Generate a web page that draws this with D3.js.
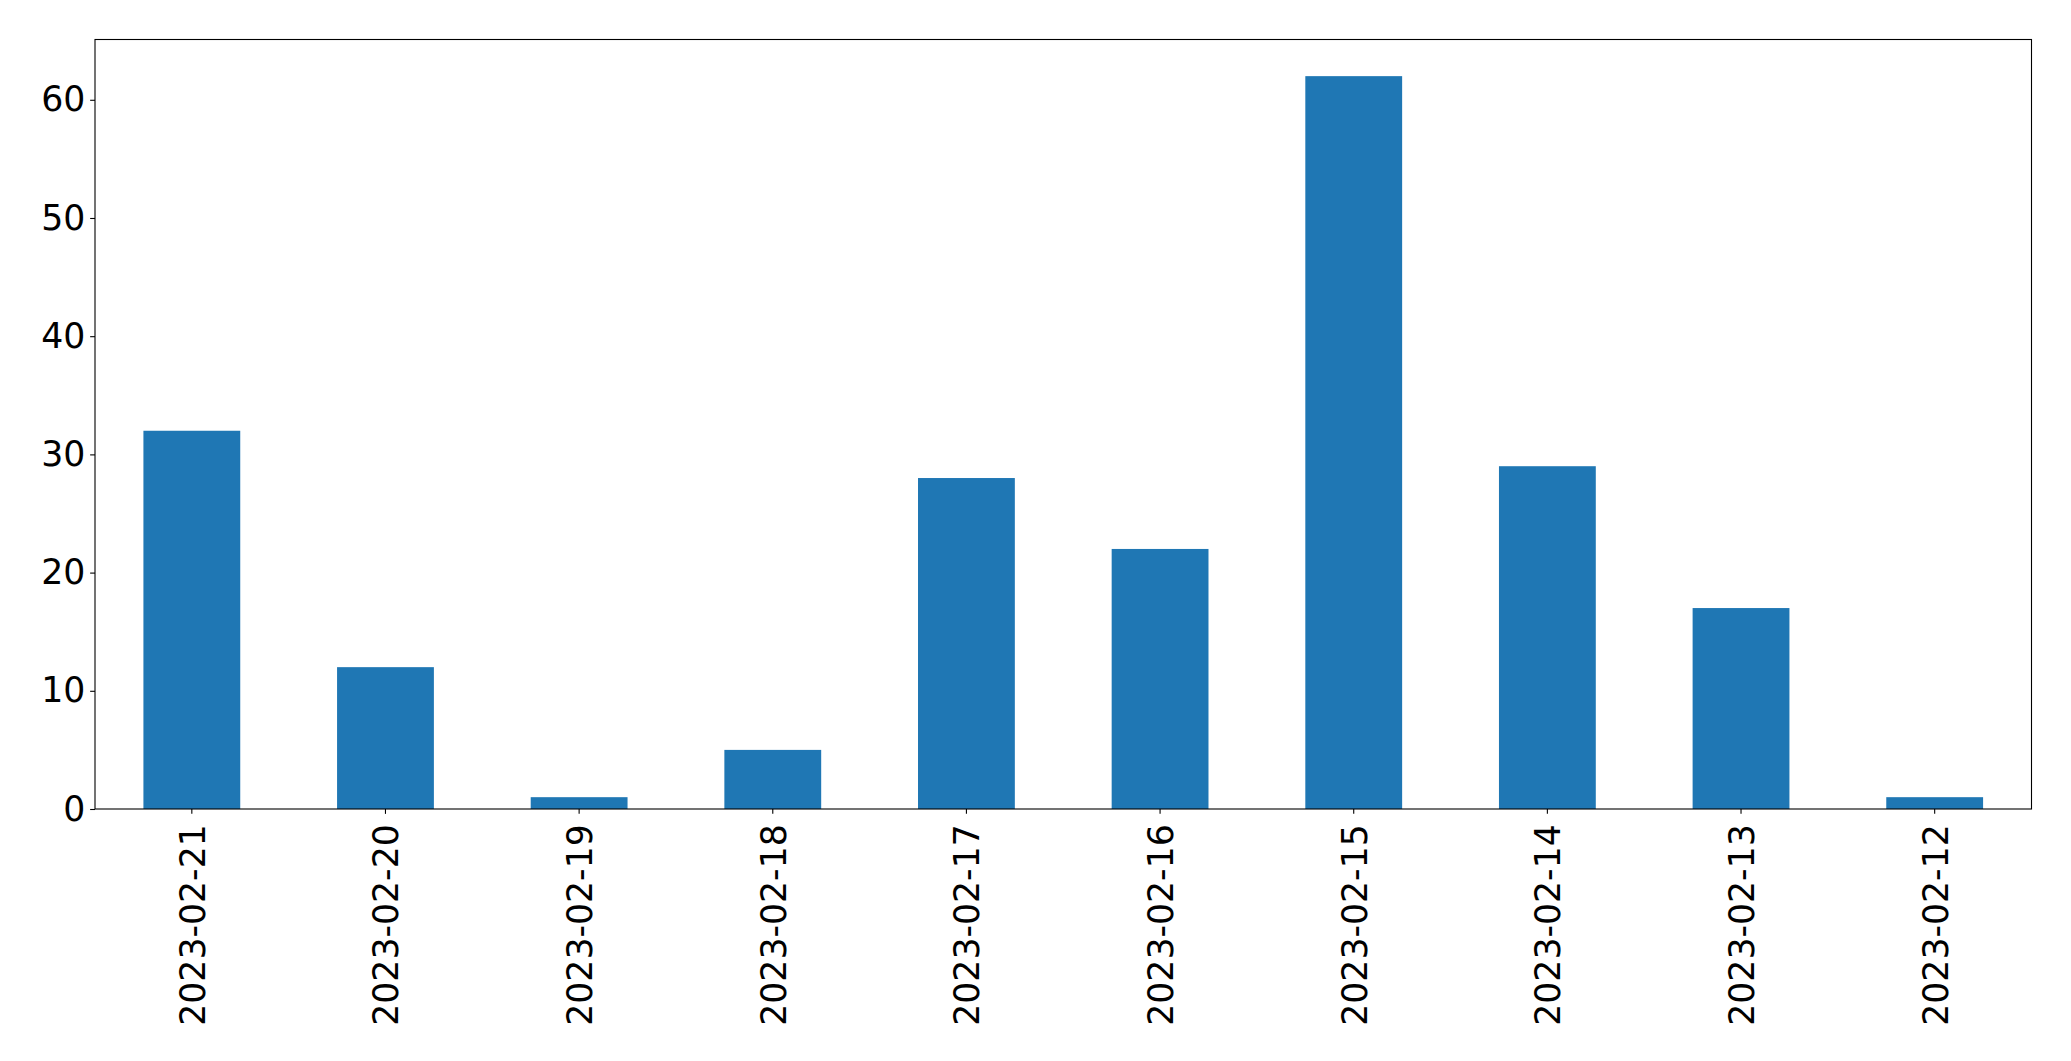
<!DOCTYPE html>
<html><head><meta charset="utf-8">
<script src="https://cdn.jsdelivr.net/npm/d3@7"></script>
<style>body{margin:0;background:#fff}svg{display:block}</style>
</head><body>
<script>
const categories = ["2023-02-21","2023-02-20","2023-02-19","2023-02-18","2023-02-17","2023-02-16","2023-02-15","2023-02-14","2023-02-13","2023-02-12"];
const values = [32, 12, 1, 5, 28, 22, 62, 29, 17, 1];
const yTicks = [0, 10, 20, 30, 40, 50, 60];

const W = 2071, H = 1061;
const m = {left: 95, right: 2031.5, top: 39.5, bottom: 809};
const fs = 34.7, tickLen = 4.86, pad = 4.86;
const font = "'DejaVu Sans', sans-serif";

const svg = d3.select("body").append("svg").attr("width", W).attr("height", H);

const x = d3.scaleBand().domain(categories).range([m.left, m.right]).paddingInner(0.5).paddingOuter(0.25);
const yMax = d3.max(values) * 1.05;
const y = d3.scaleLinear().domain([0, yMax]).range([m.bottom, m.top]);

svg.append("g").selectAll("rect").data(values).join("rect")
  .attr("x", (d, i) => x(categories[i]))
  .attr("width", x.bandwidth())
  .attr("y", d => y(d))
  .attr("height", d => y(0) - y(d))
  .attr("fill", "#1f77b4");

// frame
svg.append("rect").attr("x", m.left).attr("y", m.top)
  .attr("width", m.right - m.left).attr("height", m.bottom - m.top)
  .attr("fill", "none").attr("stroke", "#000").attr("stroke-width", 1.1);

// y axis
const yAxis = d3.axisLeft(y).tickValues(yTicks).tickSize(tickLen).tickPadding(pad).tickFormat(d3.format("d"));
const gy = svg.append("g").attr("transform", `translate(${m.left},0)`).call(yAxis);
gy.select(".domain").remove();
gy.selectAll(".tick line").attr("stroke", "#000").attr("stroke-width", 1.1);
gy.selectAll(".tick text").attr("font-family", font).attr("font-size", fs).attr("fill", "#000");

// x axis
const xAxis = d3.axisBottom(x).tickSize(tickLen).tickPadding(0);
const gx = svg.append("g").attr("transform", `translate(0,${m.bottom})`).call(xAxis);
gx.select(".domain").remove();
gx.selectAll(".tick line").attr("stroke", "#000").attr("stroke-width", 1.1);
gx.selectAll(".tick text")
  .attr("font-family", font).attr("font-size", fs).attr("fill", "#000")
  .attr("transform", `translate(13, ${tickLen + pad + 5.5}) rotate(-90)`)
  .attr("x", 0).attr("y", 0).attr("dy", 0)
  .attr("text-anchor", "end");
</script>
</body></html>
